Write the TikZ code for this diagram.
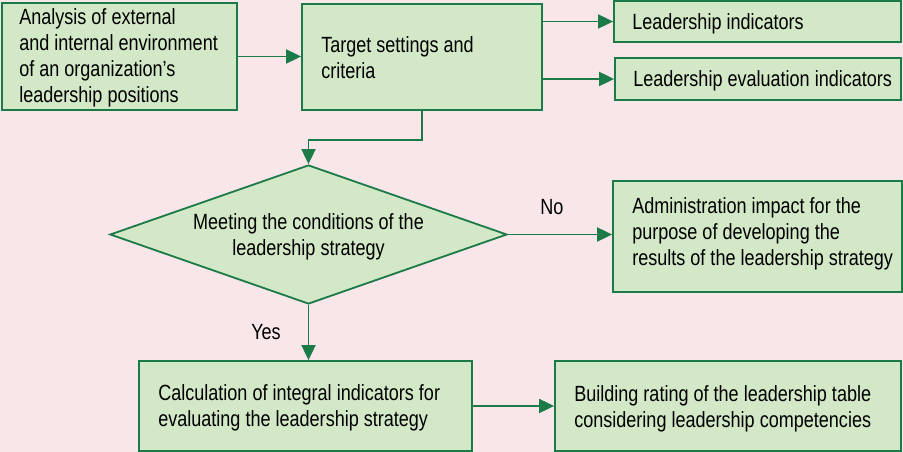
\documentclass[tikz,border=0pt]{standalone}
\usepackage{fontspec}
\setmainfont[FakeStretch=0.82]{Liberation Sans}
\usetikzlibrary{shapes.geometric,arrows.meta}
\definecolor{bgc}{HTML}{F9E6E8}
\definecolor{fillc}{HTML}{D3E8C7}
\definecolor{linec}{HTML}{1A7A48}
\begin{document}
\begin{tikzpicture}[x=1pt,y=-1pt,
  box/.style={draw=linec, fill=fillc, line width=1.8pt, rectangle, inner sep=0pt},
  txt/.style={anchor=west, align=left, inner sep=0pt, font=\fontsize{22}{26}\selectfont},
  dec/.style={draw=linec, fill=fillc, line width=1.8pt, diamond, shape aspect=2.86, inner sep=0pt, align=center, font=\fontsize{22}{26}\selectfont},
  arr/.style={draw=linec, line width=1.9pt, -{Triangle[length=15pt,width=14pt]}},
  lbl/.style={inner sep=0pt, font=\fontsize{22}{26}\selectfont}]
\fill[bgc] (0,0) rectangle (903,452);
\useasboundingbox (0,0) rectangle (903,452);

\node[box, minimum width=235pt, minimum height=107pt] (A) at (119.5,56.5) {};
\node[txt] (tA) at ([xshift=18pt,yshift=-1pt]A.west) {Analysis of external\\and internal environment\\of an organization’s\\leadership positions};

\node[box, minimum width=240pt, minimum height=106pt] (B) at (422,57) {};
\node[txt] (tB) at ([xshift=20pt,yshift=-1pt]B.west) {Target settings and\\criteria};

\node[box, minimum width=287pt, minimum height=41pt] (C) at (757.5,21.5) {};
\node[txt] (tC) at ([xshift=19pt,yshift=-2pt]C.west) {Leadership indicators};

\node[box, minimum width=286pt, minimum height=42pt] (D) at (758,79) {};
\node[txt] (tD) at ([xshift=19pt,yshift=-2pt]D.west) {Leadership evaluation indicators};

\node[dec, minimum width=397pt, minimum height=139pt] (dia) at (308.5,234.5) {};
\node[lbl, align=center] (tdia) at ([yshift=-2pt]dia.center) {Meeting the conditions of the\\leadership strategy};

\node[box, minimum width=289pt, minimum height=111pt] (E) at (757.5,236.5) {};
\node[txt] (tE) at ([xshift=20pt,yshift=3pt]E.west) {Administration impact for the\\purpose of developing the\\results of the leadership strategy};

\node[box, minimum width=333pt, minimum height=90pt] (F) at (305.5,406) {};
\node[txt] (tF) at ([xshift=20pt,yshift=-2pt]F.west) {Calculation of integral indicators for\\evaluating the leadership strategy};

\node[box, minimum width=346pt, minimum height=90pt] (G) at (728,406) {};
\node[txt] (tG) at ([xshift=20pt,yshift=-3pt]G.west) {Building rating of the leadership table\\considering leadership competencies};

\node[lbl] (no) at (552,207) {No};
\node[lbl] (yes) at (266,332) {Yes};

\draw[arr] (A.east) -- (A.east -| B.west);
\draw[arr] (C.west -| B.east) -- (C.west);
\draw[arr] (D.west -| B.east) -- (D.west);
\draw[arr] (B.south) -- ++(0,29) -| (dia.north);
\draw[arr] (dia.east) -- (dia.east -| E.west);
\draw[arr] (dia.south) -- (dia.south |- F.north);
\draw[arr] (F.east) -- (F.east -| G.west);
\end{tikzpicture}
\end{document}
